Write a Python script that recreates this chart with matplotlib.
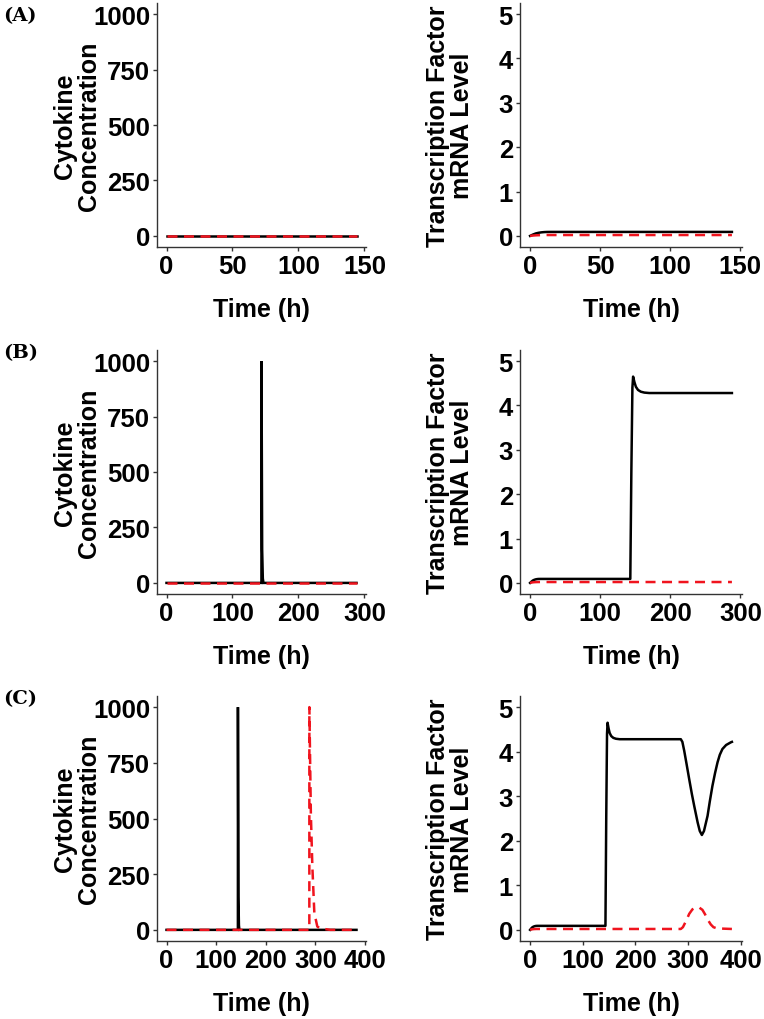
import matplotlib
matplotlib.use("Agg")
import matplotlib.pyplot as plt

plt.rcParams['font.family'] = ['Liberation Sans', 'DejaVu Sans']
plt.rcParams['font.weight'] = 'bold'

# ---------------- data ----------------
# Panel A (0-144 h)
a_cyt_t = [0, 144]
a_cyt_black = [0, 0]
a_cyt_red = [0, 0]
a_tf_t = [0, 2, 4, 6, 8, 10, 12, 15, 20, 144]
a_tf_black = [0, 0.03, 0.055, 0.07, 0.08, 0.086, 0.089, 0.09, 0.09, 0.09]
a_tf_red = [0, 0.008, 0.013, 0.016, 0.018, 0.019, 0.02, 0.02, 0.02, 0.02]

# Panel B (0-288 h)
b_cyt_t = [0, 143.9, 144, 145, 146, 147, 288]
b_cyt_black = [0, 0, 1000, 150, 20, 0, 0]
b_cyt_red_t = [0, 288]
b_cyt_red = [0, 0]
b_tf_t = [0, 2, 4, 6, 8, 10, 12, 15, 20, 143, 144.5, 146, 147, 149, 151,
          154, 158, 163, 170, 180, 288]
b_tf_black = [0, 0.03, 0.055, 0.07, 0.08, 0.086, 0.089, 0.09, 0.09, 0.09,
              2.5, 4.4, 4.65, 4.52, 4.42, 4.35, 4.31, 4.29, 4.28, 4.28, 4.28]
b_tf_red_t = [0, 2, 4, 6, 8, 10, 12, 288]
b_tf_red = [0, 0.008, 0.013, 0.016, 0.018, 0.019, 0.02, 0.02]

# Panel C (0-383 h)
c_cyt_t = [0, 143.9, 144, 145, 146, 147, 383]
c_cyt_black = [0, 0, 1000, 150, 20, 0, 0]
c_cyt_red_t = [0, 287.9, 288, 291, 294, 298, 304, 310, 318, 330, 383]
c_cyt_red = [0, 0, 1000, 520, 285, 76, 15, 6, 4, 0, 0]
c_tf_t = [0, 2, 4, 6, 8, 10, 12, 15, 20, 143, 144.5, 146, 147, 149, 151,
          154, 158, 163, 170, 180, 286, 289, 292.5, 297, 302, 307, 311.5,
          318, 322, 326, 330, 336.8, 341, 346, 351, 355.7, 360, 365, 372,
          381, 383]
c_tf_black = [0, 0.03, 0.055, 0.07, 0.08, 0.086, 0.089, 0.09, 0.09, 0.09,
              2.5, 4.4, 4.65, 4.52, 4.42, 4.35, 4.31, 4.29, 4.28, 4.28, 4.28,
              4.22, 4.02, 3.72, 3.38, 3.05, 2.78, 2.41, 2.22, 2.13, 2.22,
              2.56, 2.88, 3.23, 3.52, 3.76, 3.93, 4.06, 4.15, 4.21, 4.22]
c_tf_red_t = [0, 2, 4, 6, 8, 10, 12, 286, 290, 296, 302, 308, 314, 321,
              327, 332, 337, 343, 348, 353, 360, 383]
c_tf_red = [0, 0.008, 0.013, 0.016, 0.018, 0.019, 0.02, 0.02, 0.06, 0.2,
            0.36, 0.46, 0.5, 0.5, 0.45, 0.35, 0.23, 0.12, 0.06, 0.04, 0.03, 0.02]

x_ticks_a = [0, 50, 100, 150]
x_ticks_b = [0, 100, 200, 300]
x_ticks_c = [0, 100, 200, 300, 400]
cyt_ticks = [0, 250, 500, 750, 1000]
tf_ticks = [0, 1, 2, 3, 4, 5]
panel_labels = ['(A)', '(B)', '(C)']

# ---------------- figure ----------------
W, H = 764, 1020
fig = plt.figure(figsize=(W / 100, H / 100), dpi=100)

RED = '#f0141e'
AXC = '#333333'


def px_axes(x0, x1, top, bottom):
    return fig.add_axes([x0 / W, 1 - bottom / H, (x1 - x0) / W, (bottom - top) / H])


def style(ax, xticks, yticks, xmax, ylim, ylabel, ylab_x):
    for s in ['top', 'right']:
        ax.spines[s].set_visible(False)
    for s in ['left', 'bottom']:
        ax.spines[s].set_color(AXC)
        ax.spines[s].set_linewidth(1.0)
    ax.set_xlim(-0.05 * xmax, 1.05 * xmax)
    span = ylim[1] - ylim[0]
    ax.set_ylim(ylim[0] - 0.05 * span, ylim[1] + 0.05 * span)
    ax.set_xticks(xticks)
    ax.set_yticks(yticks)
    ax.tick_params(axis='both', colors=AXC, length=3, width=1.0,
                   labelsize=18.5, labelcolor='black', pad=2)
    for lab in ax.get_xticklabels() + ax.get_yticklabels():
        lab.set_fontweight('bold')
    ax.set_xlabel('Time (h)', fontsize=18, fontweight='bold')
    ax.xaxis.set_label_coords(0.5, -62 / 244)
    ax.xaxis.label.set_va('center')
    ax.set_ylabel(ylabel, fontsize=18, fontweight='bold', linespacing=0.95)
    ax.yaxis.label.set_va('center')
    ax.yaxis.label.set_ha('center')
    ax.yaxis.label.set_multialignment('center')
    ax.yaxis.set_label_coords(ylab_x, 0.5)


rows = [(4, 248), (351, 595), (697, 942)]
LW = 1.8
DASH = (4.0, 2.6)

cyt_data = [
    (a_cyt_t, a_cyt_black, a_cyt_t, a_cyt_red, x_ticks_a, 144),
    (b_cyt_t, b_cyt_black, b_cyt_red_t, b_cyt_red, x_ticks_b, 288),
    (c_cyt_t, c_cyt_black, c_cyt_red_t, c_cyt_red, x_ticks_c, 383),
]
tf_data = [
    (a_tf_t, a_tf_black, a_tf_t, a_tf_red, x_ticks_a, 144),
    (b_tf_t, b_tf_black, b_tf_red_t, b_tf_red, x_ticks_b, 288),
    (c_tf_t, c_tf_black, c_tf_red_t, c_tf_red, x_ticks_c, 383),
]
label_y = [16, 353, 699]

for i, (top, bottom) in enumerate(rows):
    ax = px_axes(157, 366, top, bottom)
    t_b, y_b, t_r, y_r, xt, xmax = cyt_data[i]
    ax.plot(t_b, y_b, color='black', lw=LW, solid_joinstyle='miter')
    ax.plot(t_r, y_r, color=RED, lw=LW, dashes=DASH)
    style(ax, xt, cyt_ticks, xmax, (0, 1000), 'Cytokine\nConcentration', -80 / 209)

    ax2 = px_axes(520, 742, top, bottom)
    t_b, y_b, t_r, y_r, xt, xmax = tf_data[i]
    ax2.plot(t_b, y_b, color='black', lw=LW)
    ax2.plot(t_r, y_r, color=RED, lw=LW, dashes=DASH)
    style(ax2, xt, tf_ticks, xmax, (0, 5), 'Transcription Factor\nmRNA Level', -70 / 222)

    fig.text(3 / W, 1 - label_y[i] / H, panel_labels[i], family='DejaVu Serif',
             fontweight='bold', fontsize=14, ha='left', va='center')

fig.savefig('out.png', dpi=100)
